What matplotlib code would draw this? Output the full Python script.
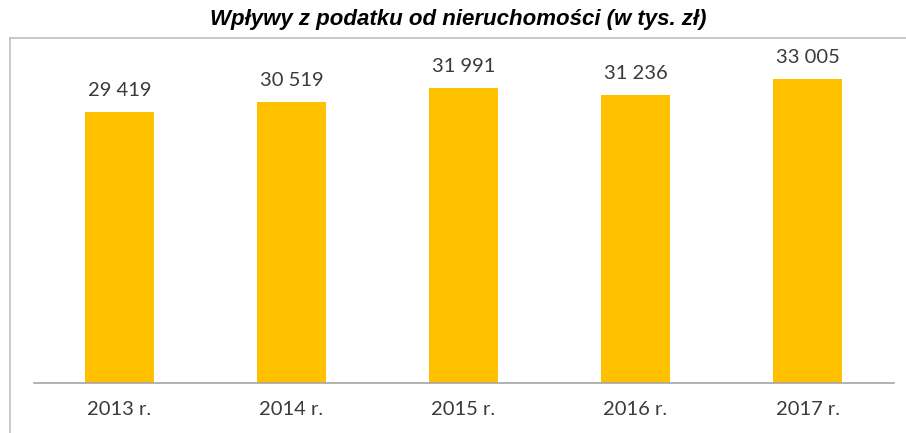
import matplotlib
matplotlib.use("Agg")
import matplotlib.pyplot as plt
from matplotlib.lines import Line2D

categories = ["2013 r.", "2014 r.", "2015 r.", "2016 r.", "2017 r."]
values = [29419, 30519, 31991, 31236, 33005]
value_labels = ["29 419", "30 519", "31 991", "31 236", "33 005"]
title = "Wpływy z podatku od nieruchomości (w tys. zł)"

W, H = 906, 433
fig = plt.figure(figsize=(W/100, H/100), dpi=100)
fig.patch.set_facecolor("white")

ax = fig.add_axes([33.5/W, 1-383/H, 860/W, 333/H])
x = list(range(len(categories)))
ax.bar(x, values, width=0.4, color="#FFC000", zorder=2)
ax.set_xlim(-0.5, 4.5)
ax.set_ylim(0, 36150)
for s in ["top", "right", "left"]:
    ax.spines[s].set_visible(False)
ax.spines["bottom"].set_color("#a6a6a6")
ax.spines["bottom"].set_linewidth(1.2)
ax.set_yticks([])
ax.set_xticks(x)
ax.set_xticklabels(categories, fontsize=14.5, fontfamily="Lato", color="#3a3a3a")
ax.tick_params(axis="x", length=0, pad=13)

for xi, v, lab in zip(x, values, value_labels):
    ax.annotate(lab, (xi, v), xytext=(0, 13), textcoords="offset pixels",
                ha="center", va="bottom", fontsize=14.5, fontfamily="Lato", color="#3a3a3a")

# outer chart frame (top and left edges visible)
fig.add_artist(Line2D([10/W, 1.0], [1-38/H, 1-38/H], transform=fig.transFigure, color="#bfbfbf", lw=1.2))
fig.add_artist(Line2D([10/W, 10/W], [0, 1-38/H], transform=fig.transFigure, color="#bfbfbf", lw=1.2))

fig.text(458/W, 1-20/H, title, ha="center", va="center", fontsize=16, fontweight="bold",
         fontstyle="italic", fontfamily="Liberation Sans", color="black")

fig.savefig("out.png", dpi=100)
